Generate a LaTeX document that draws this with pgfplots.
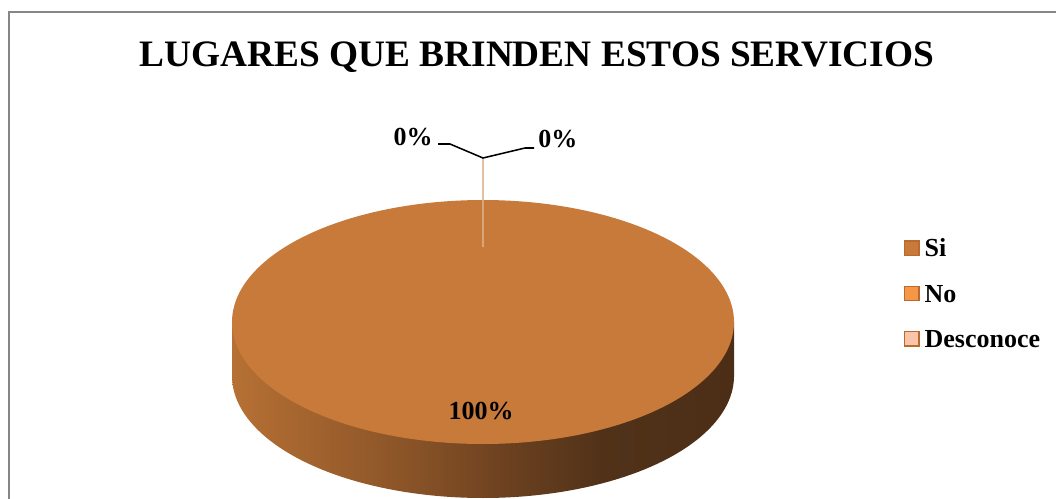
\documentclass[border=0pt]{standalone}
\usepackage{pgfplots}
\pgfplotsset{compat=1.18}
\usepackage{pgfplotstable}
\usepackage{fontspec}
\setmainfont{Liberation Serif}
\definecolor{topc}{RGB}{200,122,58}
\definecolor{sideA}{RGB}{182,112,52}
\definecolor{sideB}{RGB}{140,85,40}
\definecolor{sideC}{RGB}{110,66,32}
\definecolor{sideD}{RGB}{81,50,25}
\definecolor{sideE}{RGB}{76,46,23}
\definecolor{noc}{RGB}{247,150,70}
\definecolor{desc}{RGB}{250,196,170}
\definecolor{edgec}{RGB}{186,106,46}
\definecolor{framec}{RGB}{134,134,134}
\definecolor{leadc}{RGB}{222,178,140}
\pgfdeclarehorizontalshading{sideshade}{100bp}{color(0bp)=(sideA); color(25bp)=(sideA);
  color(41.7bp)=(sideB); color(51.7bp)=(sideC); color(61.7bp)=(sideD); color(75bp)=(sideE); color(100bp)=(sideE)}

\pgfplotstableread{
label value
Si 100
No 0
Desconoce 0
}\piedata

\begin{document}
\begin{tikzpicture}
\pgfplotstablegetelem{0}{value}\of\piedata
\let\vSi\pgfplotsretval
\pgfmathsetmacro{\angSi}{3.6*\vSi}
\begin{axis}[name=ax, width=792pt, height=374.25pt, scale only axis,
  xmin=0, xmax=1056, ymin=0, ymax=499, y dir=reverse, hide axis, clip=false,
  legend image code/.code={\draw[#1, line width=1.1pt] (0pt,-5.4pt) rectangle (10.8pt,5.4pt);},
  legend style={at={(axis cs:904,239.5)}, anchor=north west, draw=none, fill=none,
    inner sep=0pt, outer sep=0pt, row sep=21pt, column sep=3.6pt,
    font=\fontsize{19.5}{23}\selectfont\bfseries,
    nodes={inner sep=0pt, text height=13pt, text depth=0pt}},
  legend cell align=left]

% side of the 3D pie (bottom ellipse + band)
\addplot[forget plot, draw=none, shade, shading=sideshade,
  domain=0:360, samples=181, variable=\t] ({483+251*cos(\t)},{376+122*sin(\t)});
\addplot[forget plot, draw=none, shade, shading=sideshade]
  coordinates {(232,322) (734,322) (734,376) (232,376)};
% top face: slice "Si" (100%)
\addplot[forget plot, fill=topc, draw=none, domain=0:\angSi, samples=181, variable=\t]
  ({483+251*cos(\t)},{322+122*sin(\t)});

\draw[leadc, opacity=0.8, line width=0.9pt] (axis cs:483,158) -- (axis cs:483,247);
\draw[black, line width=1.15pt] (axis cs:438,144) -- (axis cs:450,144) -- (axis cs:483,158) -- (axis cs:525,148) -- (axis cs:534,148);

\node[anchor=base east, inner sep=0pt, font=\fontsize{19.5}{23}\selectfont\bfseries] at (axis cs:433,146) {0\%};
\node[anchor=base west, inner sep=0pt, font=\fontsize{19.5}{23}\selectfont\bfseries] at (axis cs:538,147) {0\%};
\node[anchor=base, inner sep=0pt, font=\fontsize{19.5}{23}\selectfont\bfseries] at (axis cs:481,419) {100\%};

\node[anchor=base, inner sep=0pt, font=\fontsize{28}{34}\selectfont\bfseries] at (axis cs:537,67) {LUGARES QUE BRINDEN ESTOS SERVICIOS};

\draw[framec, line width=0.8pt] (axis cs:9,499) -- (axis cs:9,12) -- (axis cs:1056,12);

\addlegendimage{fill=topc, draw=edgec}
\addlegendimage{fill=noc, draw=edgec}
\addlegendimage{fill=desc, draw=edgec}
\legend{Si,No,Desconoce}
\end{axis}
\pgfresetboundingbox
\useasboundingbox (ax.south west) rectangle (ax.north east);
\end{tikzpicture}
\end{document}
